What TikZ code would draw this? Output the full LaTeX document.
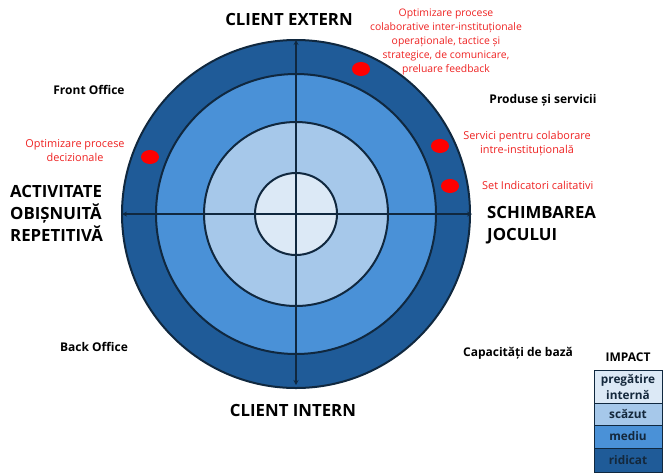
\documentclass[tikz,border=0pt]{standalone}
\usepackage{fontspec}
\setmainfont{Open Sans}
\usetikzlibrary{positioning}

\definecolor{ringA}{HTML}{1F5B98}
\definecolor{ringB}{HTML}{4A91D7}
\definecolor{ringC}{HTML}{A6C8EA}
\definecolor{ringD}{HTML}{DCE9F6}
\definecolor{edge}{HTML}{10283F}
\definecolor{redtxt}{HTML}{EE2222}
\definecolor{legtxt}{HTML}{14283C}

\tikzset{
  ring/.style={draw=edge,line width=2pt},
  axis/.style={draw=edge,line width=1.2pt,<->,>=stealth},
  dot/.style={fill=red,draw=none},
  bigl/.style={font=\bfseries\fontsize{16.8}{22}\selectfont,inner sep=0pt},
  smalll/.style={font=\bfseries\fontsize{12}{14}\selectfont,inner sep=0pt},
  redl/.style={text=redtxt,font=\fontsize{10.9}{14}\selectfont,align=center,inner sep=0pt},
  legbox/.style={draw=edge,line width=1pt,minimum width=68pt,outer sep=0pt,
    inner sep=0pt,align=center,text=legtxt,font=\bfseries\fontsize{11.8}{16}\selectfont},
}

\begin{document}
\begin{tikzpicture}[x=1pt,y=-1pt]
  \useasboundingbox (0,0) rectangle (663,475);
  \coordinate (o) at (296,214);
  % rings
  \filldraw[ring,fill=ringA] (o) circle (174pt);
  \filldraw[ring,fill=ringB] (o) circle (140pt);
  \filldraw[ring,fill=ringC] (o) circle (92pt);
  \filldraw[ring,fill=ringD] (o) circle (41pt);
  % axes
  \coordinate (top) at (296,40);
  \coordinate (bot) at (296,385);
  \coordinate (lft) at (122,214);
  \coordinate (rgt) at (472,214);
  \draw[axis] (bot) -- (top);
  \draw[axis] (lft) -- (rgt);
  % red marks
  \fill[dot] (361,69) ellipse (9pt and 7pt);
  \fill[dot] (150,157) ellipse (9pt and 7pt);
  \fill[dot] (440,146) ellipse (9pt and 7pt);
  \fill[dot] (450,186) ellipse (9pt and 7pt);

  \node[bigl] (ext) at (289,19) {CLIENT EXTERN};
  \node[bigl] (int) at (293,410) {CLIENT INTERN};
  \node[bigl,anchor=west,align=left] (act) at (10,213) {ACTIVITATE\\OBIȘNUITĂ\\REPETITIVĂ};
  \node[bigl,anchor=west,align=left] (joc) at (487,225) {SCHIMBAREA\\JOCULUI};

  \node[smalll] (front) at (89,90) {Front Office};
  \node[smalll] (back) at (94,347) {Back Office};
  \node[smalll] (prod) at (543,100) {Produse și servicii};
  \node[smalll] (cap) at (518,353) {Capacități de bază};

  \node[redl] (dec) at (75,151) {Optimizare procese\\decizionale};
  \node[redl,font=\fontsize{10.4}{14}\selectfont] (colab) at (446,42) {Optimizare procese\\colaborative inter-instituționale\\operaționale, tactice și\\strategice, de comunicare,\\preluare feedback};
  \node[redl] (serv) at (527,144) {Servici pentru colaborare\\intre-instituțională};
  \node[redl,anchor=west] (ind) at (482,185) {Set Indicatori calitativi};

  % legend
  \node[smalll] (imp) at (628,357) {IMPACT};
  \node[legbox,fill=ringD,minimum height=33pt] (l1) at (628,386.5) {pregătire\\internă};
  \node[legbox,fill=ringC,minimum height=22pt,below=0pt of l1] (l2) {scăzut};
  \node[legbox,fill=ringB,minimum height=23pt,below=0pt of l2] (l3) {mediu};
  \node[legbox,fill=ringA,minimum height=24pt,below=0pt of l3] (l4) {ridicat};
\end{tikzpicture}
\end{document}
